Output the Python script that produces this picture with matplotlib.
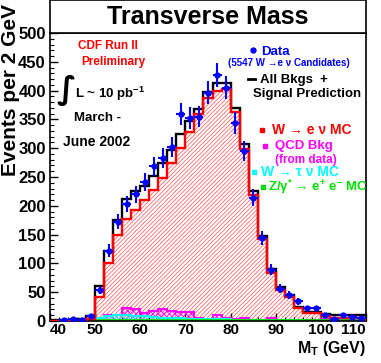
import matplotlib
matplotlib.use("Agg")
import matplotlib.pyplot as plt
from matplotlib.ticker import MultipleLocator
from matplotlib.lines import Line2D

plt.rcParams['font.family'] = ['Liberation Sans', 'DejaVu Sans']
plt.rcParams['font.weight'] = 'bold'
plt.rcParams['mathtext.fontset'] = 'custom'
plt.rcParams['mathtext.rm'] = 'Liberation Sans:bold'
plt.rcParams['mathtext.it'] = 'Liberation Sans:bold'
plt.rcParams['mathtext.bf'] = 'Liberation Sans:bold'
plt.rcParams['hatch.linewidth'] = 0.6

# 2 GeV bins from 40 to 110 GeV
bin_edges = list(range(40, 112, 2))

data_counts = [0, 1, 3, 2, 9, 54, 122, 172, 203, 220, 242, 269, 283, 302, 360,
               353, 355, 396, 427, 405, 344, 295, 214, 144, 89, 56, 45, 34, 22,
               22, 10, 3, 10, 7, 5]
data_errors = [0, 1.0, 1.7, 1.4, 3.0, 7.3, 11.0, 13.1, 14.2, 14.8, 15.6, 16.4,
               16.8, 17.4, 19.0, 18.8, 18.8, 19.9, 20.7, 20.1, 18.5, 17.2, 14.6,
               12.0, 9.4, 7.5, 6.7, 5.8, 4.7, 4.7, 3.2, 1.7, 3.2, 2.6, 2.2]
w_enu_mc = [0.5, 0.5, 1, 1, 3, 42, 100, 150, 177, 192, 210, 227, 249, 275, 301,
            328, 359, 387, 399, 402, 362, 298, 219, 142, 83, 54, 42, 22, 14, 14,
            8, 6, 6, 6, 5]
total_pred = [1, 1, 2, 4, 8, 60, 121, 176, 211, 225, 234, 252, 275, 297, 324,
              347, 368, 397, 413, 413, 370, 307, 225, 148, 90, 59, 45, 25, 16,
              16, 13, 10, 10, 10, 10]
qcd_bkg = [0, 0, 0.5, 1, 2, 6, 10, 10, 22, 20, 14, 17, 21, 17, 15, 15, 6, 1, 10,
           6, 3, 6, 2, 2, 6, 2, 1, 2, 1, 1, 3, 2, 1, 1, 1]
w_taunu_mc = [0, 0, 0, 0.5, 1, 5, 8, 10, 10, 9, 8, 7, 6, 5, 5, 4, 4, 3, 3, 3, 2,
              2, 2, 1, 1, 1, 1, 1, 0.5, 0.5, 0.5, 0.5, 0.5, 0.5, 0.5]
z_ee_mc = [0, 0, 0.5, 1, 1, 2, 2, 2, 2, 2, 2, 2, 2, 2, 2, 2, 2, 2, 2, 2, 2, 2, 2,
           2, 2, 1.5, 1.5, 1.5, 1.5, 1.5, 1.5, 1.5, 1.5, 1.5, 1.5]

x_ticks = [40, 50, 60, 70, 80, 90, 100, 110]
y_ticks = [0, 50, 100, 150, 200, 250, 300, 350, 400, 450, 500]

fig = plt.figure(figsize=(3.81, 3.63), dpi=100)
ax = fig.add_axes([50 / 381, 1 - 321 / 363, 316 / 381, 288 / 363])

# signal MC, hatched
ax.stairs(w_enu_mc, bin_edges, fill=True, facecolor='none', edgecolor='#ff6a6a',
          hatch='////////', linewidth=0, zorder=1)
# backgrounds (not stacked)
ax.stairs(qcd_bkg, bin_edges, fill=True, facecolor='none', edgecolor='#ff00ff',
          hatch='xxxxxx', linewidth=0, zorder=2)
ax.stairs(qcd_bkg, bin_edges, color='#ff00ff', linewidth=1.5, zorder=2)
ax.stairs(w_taunu_mc, bin_edges, fill=True, facecolor='none', edgecolor='#00ffff',
          hatch='xxxxxx', linewidth=0, zorder=2)
ax.stairs(w_taunu_mc, bin_edges, color='#00ffff', linewidth=1.5, zorder=2)
ax.stairs(z_ee_mc, bin_edges, color='#00e000', linewidth=2, zorder=2)

ax.stairs(total_pred, bin_edges, color='black', linewidth=1.7, zorder=3)
ax.stairs(w_enu_mc, bin_edges, color='red', linewidth=1.7, zorder=4)

# data points with errors
centers = [e + 1 for e in bin_edges[:-1]]
xs = [c for c, n in zip(centers, data_counts) if n > 0]
ys = [n for n in data_counts if n > 0]
es = [s for s, n in zip(data_errors, data_counts) if n > 0]
ax.errorbar(xs, ys, xerr=1, yerr=es, fmt='o', color='blue', ms=3.5,
            elinewidth=1.5, capsize=0, zorder=5)

ax.set_xlim(40, 110)
ax.set_ylim(0, 500)
ax.set_xticks(x_ticks, [str(t) for t in x_ticks])
ax.set_yticks(y_ticks, [str(t) for t in y_ticks])
ax.tick_params(axis='both', which='major', direction='in', length=6, width=1,
               labelsize=12, right=False, top=False)
ax.tick_params(axis='x', labelsize=11, pad=1.5)
ax.tick_params(axis='y', pad=3)
ax.tick_params(axis='both', which='minor', direction='in', length=3, width=0.8,
               right=False, top=False)
xlabels = ax.get_xticklabels()
xlabels[0].set_horizontalalignment('left')
xlabels[-1].set_horizontalalignment('right')
ax.xaxis.set_minor_locator(MultipleLocator(2))
ax.yaxis.set_minor_locator(MultipleLocator(10))
for s in ax.spines.values():
    s.set_linewidth(1.2)

# title box
tax = fig.add_axes([50 / 381, 1 - 33 / 363, 316 / 381, 33 / 363])
tax.set_xticks([])
tax.set_yticks([])
for s in tax.spines.values():
    s.set_linewidth(1.2)
tax.text(0.5, 0.47, 'Transverse Mass', ha='center', va='center', fontsize=18,
         transform=tax.transAxes)

fig.text(11 / 381, 1 - 4 / 363, 'Events per 2 GeV', rotation=90, ha='center',
         va='top', fontsize=15)
fig.text(366 / 381, 1 - 349 / 363, r'M$_{\mathrm{T}}$ (GeV)', ha='right',
         va='center', fontsize=11.5)


def ftext(x, y, s, **kw):
    fig.text(x / 381, 1 - y / 363, s, va='center', **kw)


def fmark(x, y, marker, color, size):
    fig.add_artist(Line2D([x / 381], [1 - y / 363], marker=marker, color=color,
                          markersize=size, linestyle='none'))


ftext(108, 46, 'CDF Run II', ha='center', color='red', fontsize=8.5)
ftext(113, 62, 'Preliminary', ha='center', color='red', fontsize=8.5)
ftext(66, 91, '\u222b', ha='center', color='black', fontsize=23,
      family=['DejaVu Sans'])
ftext(75, 94, r'L ~ 10 pb$^{-1}$', ha='left', color='black', fontsize=9.5)
ftext(74, 118, 'March -', ha='left', color='black', fontsize=9.5)
ftext(63, 142, 'June 2002', ha='left', color='black', fontsize=10)

fmark(253, 50, 'o', 'blue', 3.5)
ftext(261, 52, 'Data', ha='left', color='blue', fontsize=9.5)
ftext(289, 63, '(5547 W \u2192e \u03bd Candidates)', ha='center', color='blue',
      fontsize=7)
fig.add_artist(Line2D([248 / 381, 255 / 381], [1 - 79 / 363, 1 - 79 / 363],
                      color='black', linewidth=2))
ftext(260, 80, 'All Bkgs  +', ha='left', color='black', fontsize=9.5)
ftext(253, 94, 'Signal Prediction', ha='left', color='black', fontsize=9.5)

fmark(262, 130, 's', 'red', 3)
ftext(272, 130, 'W \u2192 e \u03bd MC', ha='left', color='red', fontsize=10)
fmark(265, 146, 's', '#ff00ff', 3)
ftext(275, 146, 'QCD Bkg', ha='left', color='#ff00ff', fontsize=9.5)
ftext(275, 160, '(from data)', ha='left', color='#ff00ff', fontsize=8.5)
fmark(254, 172, 's', '#00ffff', 3)
ftext(261, 172, 'W \u2192 \u03c4 \u03bd MC', ha='left', color='#00ffff',
      fontsize=10)
fmark(263, 187, 's', '#00e000', 3)
ftext(268, 187, 'Z/\u03b3$^{*}$ \u2192 e$^{+}$ e$^{-}$ MC', ha='left',
      color='#00e000', fontsize=9.5)

fig.savefig('out.png', dpi=100)
